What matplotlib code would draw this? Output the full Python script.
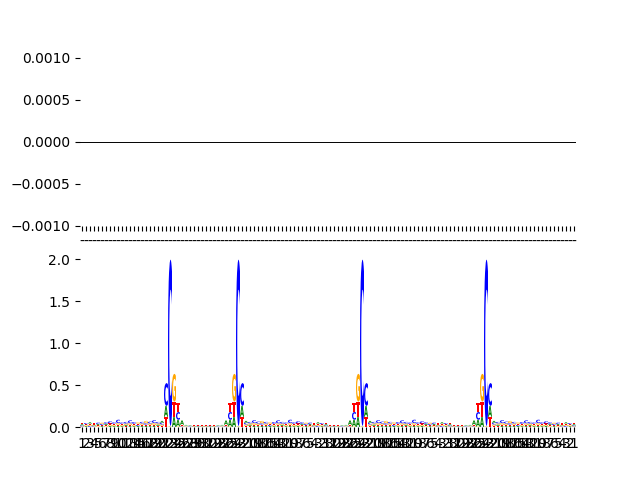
import numpy as np
import matplotlib
matplotlib.use("Agg")
import matplotlib.pyplot as plt
from matplotlib.textpath import TextPath
from matplotlib.patches import PathPatch
from matplotlib.font_manager import FontProperties
from matplotlib.transforms import Affine2D

# letter heights per distance label 1..31 (shared by all four segments)
label_ids = list(range(1, 32))
height_A = [.014, .012, .016, .012, .014, .012, .015, .014, .012, .014, .012, .014, .013, .012, .014, .013,
            .014, .012, .014, .016, .022, .13, .005, .12, .08, .05, .008, .007, .007, .006, .007]
height_C = [.012, .014, .014, .010, .016, .014, .018, .024, .018, .040, .016, .020, .034, .022, .014, .018,
            .017, .022, .034, .017, .020, .27, 1.98, .005, .09, .01, .006, .006, .005, .006, .006]
height_G = [.010, .012, .014, .010, .012, .014, .012, .016, .014, .020, .014, .016, .018, .014, .016, .017,
            .028, .018, .020, .016, .017, .005, .005, .33, .01, .01, .006, .005, .006, .005, .006]
height_T = [.014, .012, .015, .016, .012, .013, .014, .016, .014, .015, .014, .013, .016, .014, .014, .015,
            .016, .014, .015, .014, .016, .12, .005, .18, .11, .01, .007, .006, .007, .006, .007]

# tick labels along the sequence: one ascending segment, three descending
seq_labels = list(range(1, 32)) + list(range(31, 0, -1)) * 3

colors = {"A": (0, 0.5, 0), "C": (0, 0, 1), "G": (1, 0.65, 0), "T": (1, 0, 0)}
heights = {"A": height_A, "C": height_C, "G": height_G, "T": height_T}
font = FontProperties(family="DejaVu Sans", weight="bold")


def draw_letter(ax, char, x, y0, h, width=1.0):
    path = TextPath((0, 0), char, size=1, prop=font)
    ext = path.get_extents()
    tr = (Affine2D().translate(-ext.x0, -ext.y0)
          .scale(width / ext.width, h / ext.height)
          .translate(x - width / 2, y0))
    ax.add_patch(PathPatch(tr.transform_path(path), facecolor=colors[char],
                           edgecolor="none"))


positions = np.arange(len(seq_labels))

fig, (ax_top, ax_logo) = plt.subplots(2, 1, figsize=(6.4, 4.8), dpi=100)

# top panel: empty track with baseline
ax_top.axhline(0, color="black", lw=0.7)
ax_top.set_xlim(-0.5, len(positions) - 0.5)
ax_top.set_ylim(-0.001, 0.001)
ax_top.set_xticks(positions)
ax_top.set_xticklabels(["-"] * len(positions))
for s in ax_top.spines.values():
    s.set_visible(False)

# bottom panel: sequence logo
for pos, lab in zip(positions, seq_labels):
    i = label_ids.index(lab)
    col = sorted(((heights[c][i], c) for c in "ACGT"))
    y = 0.0
    for h, c in col:
        draw_letter(ax_logo, c, pos, y, h)
        y += h

ax_logo.set_xlim(-0.5, len(positions) - 0.5)
ax_logo.set_ylim(0, 2)
ax_logo.set_xticks(positions)
ax_logo.set_xticklabels([str(v) for v in seq_labels])
for s in ax_logo.spines.values():
    s.set_visible(False)

fig.savefig("out.png")
